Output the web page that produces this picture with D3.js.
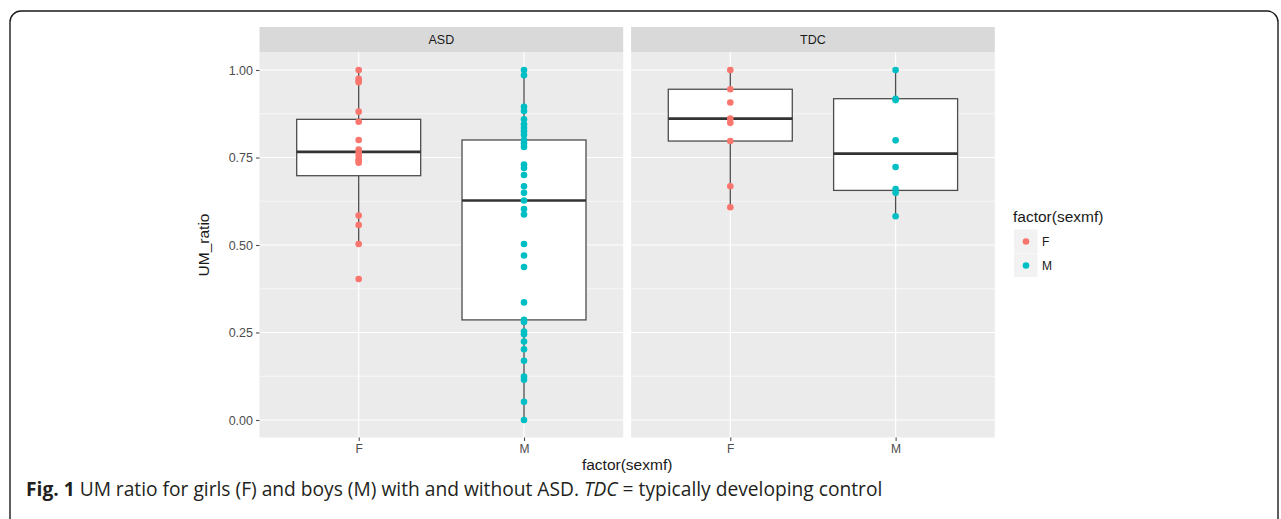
<!DOCTYPE html>
<html>
<head>
<meta charset="utf-8">
<script src="https://cdn.jsdelivr.net/npm/d3@7"></script>
<style>
  body { margin: 0; background: #fff; }
  svg { display: block; }
</style>
</head>
<body>
<svg id="chart"></svg>
<script>
// facets and categories
const panels = ["ASD", "TDC"];
const sexes = ["F", "M"];
const yTicks = [0, 0.25, 0.5, 0.75, 1];
const yMinor = [0.125, 0.375, 0.625, 0.875];

// box stats: [panel, sex, lower, q1, median, q3, upper]
const boxStats = [
    ["ASD", "F", 0.50, 0.698, 0.766, 0.859, 1.00],
    ["ASD", "M", 0.00, 0.286, 0.627, 0.800, 1.00],
    ["TDC", "F", 0.608, 0.797, 0.861, 0.945, 1.00],
    ["TDC", "M", 0.582, 0.656, 0.761, 0.918, 1.00]
];

// individual observations
const asdF = [1.00, 0.975, 0.97, 0.965, 0.881, 0.852, 0.80, 0.773, 0.765, 0.755, 0.745, 0.74, 0.735, 0.584, 0.557, 0.503, 0.403];
const asdM = [1.00, 0.985, 0.895, 0.883, 0.859, 0.845, 0.835, 0.825, 0.815, 0.80, 0.79, 0.78, 0.73, 0.72, 0.70, 0.668, 0.649,
    0.627, 0.603, 0.587, 0.503, 0.47, 0.437, 0.336, 0.286, 0.28, 0.253, 0.245, 0.224, 0.202, 0.169, 0.124, 0.115, 0.052, 0.00];
const tdcF = [1.00, 0.945, 0.907, 0.861, 0.849, 0.797, 0.668, 0.608];
const tdcM = [1.00, 0.918, 0.914, 0.799, 0.723, 0.66, 0.649, 0.582];

const points = [];
[["ASD", "F", asdF], ["ASD", "M", asdM], ["TDC", "F", tdcF], ["TDC", "M", tdcM]].forEach(([p, s, vals]) => {
    vals.forEach(v => points.push({ panel: p, sex: s, value: v }));
});

const colors = { F: "#F8766D", M: "#00BFC4" };

const W = 1281, H = 519;
const svg = d3.select("#chart").attr("width", W).attr("height", H);

// outer frame
svg.append("rect")
    .attr("x", 10).attr("y", 11)
    .attr("width", 1268).attr("height", 530)
    .attr("rx", 11)
    .attr("fill", "none")
    .attr("stroke", "#1a1a1a")
    .attr("stroke-width", 1.4);

const panelX = { ASD: [259.5, 623.2], TDC: [631.1, 994.8] };
const stripTop = 27, plotTop = 52.5, plotBottom = 437.5;

const yScale = d3.scaleLinear().domain([-0.05, 1.05]).range([plotBottom, plotTop]);

const font = "Liberation Sans, Arial, sans-serif";

panels.forEach(p => {
    let [x0, x1] = panelX[p];
    let xScale = d3.scalePoint().domain(sexes).range([x0, x1]).padding(0.6);
    let step = xScale.step();
    let g = svg.append("g");

    // strip
    g.append("rect").attr("x", x0).attr("y", stripTop).attr("width", x1 - x0).attr("height", plotTop - stripTop).attr("fill", "#d9d9d9");
    g.append("text").attr("x", (x0 + x1) / 2).attr("y", (stripTop + plotTop) / 2 + 4.5)
        .attr("text-anchor", "middle").attr("font-family", font).attr("font-size", 12.5).attr("fill", "#1a1a1a").text(p);

    // panel background + grid
    g.append("rect").attr("x", x0).attr("y", plotTop).attr("width", x1 - x0).attr("height", plotBottom - plotTop).attr("fill", "#ebebeb");
    g.selectAll(".minor").data(yMinor).enter().append("line")
        .attr("x1", x0).attr("x2", x1).attr("y1", d => yScale(d)).attr("y2", d => yScale(d))
        .attr("stroke", "#fff").attr("stroke-width", 0.6);
    g.selectAll(".major").data(yTicks).enter().append("line")
        .attr("x1", x0).attr("x2", x1).attr("y1", d => yScale(d)).attr("y2", d => yScale(d))
        .attr("stroke", "#fff").attr("stroke-width", 1.2);
    g.selectAll(".vmajor").data(sexes).enter().append("line")
        .attr("x1", d => xScale(d)).attr("x2", d => xScale(d)).attr("y1", plotTop).attr("y2", plotBottom)
        .attr("stroke", "#fff").attr("stroke-width", 1.2);

    // boxplots
    let bw = step * 0.75;
    boxStats.filter(b => b[0] == p).forEach(([_, s, lo, q1, med, q3, hi]) => {
        let cx = xScale(s);
        let line = (ya, yb) => g.append("line").attr("x1", cx).attr("x2", cx).attr("y1", yScale(ya)).attr("y2", yScale(yb))
            .attr("stroke", "#4d4d4d").attr("stroke-width", 1.3);
        line(q3, hi);
        line(lo, q1);
        g.append("rect").attr("x", cx - bw / 2).attr("y", yScale(q3)).attr("width", bw).attr("height", yScale(q1) - yScale(q3))
            .attr("fill", "#fff").attr("stroke", "#4d4d4d").attr("stroke-width", 1.3);
        g.append("line").attr("x1", cx - bw / 2).attr("x2", cx + bw / 2).attr("y1", yScale(med)).attr("y2", yScale(med))
            .attr("stroke", "#333").attr("stroke-width", 2.6);
    });

    // points
    g.selectAll(".pt").data(points.filter(d => d.panel == p)).enter().append("circle")
        .attr("cx", d => xScale(d.sex)).attr("cy", d => yScale(d.value)).attr("r", 3.3)
        .attr("fill", d => colors[d.sex]);

    // x axis
    let xAxis = d3.axisBottom(xScale).tickSize(3.5).tickPadding(3);
    let ax = g.append("g").attr("transform", `translate(0,${plotBottom})`).call(xAxis);
    ax.select(".domain").remove();
    ax.selectAll("line").attr("stroke", "#4d4d4d").attr("stroke-width", 1.1);
    ax.selectAll("text").attr("font-family", font).attr("font-size", 12).attr("fill", "#4d4d4d");
});

// y axis
let yAxis = d3.axisLeft(yScale).tickValues(yTicks).tickFormat(d3.format(".2f")).tickSize(3.5).tickPadding(3);
let ay = svg.append("g").attr("transform", `translate(${panelX.ASD[0]},0)`).call(yAxis);
ay.select(".domain").remove();
ay.selectAll("line").attr("stroke", "#4d4d4d").attr("stroke-width", 1.1);
ay.selectAll("text").attr("font-family", font).attr("font-size", 12.5).attr("fill", "#4d4d4d");

// axis titles
svg.append("text").attr("transform", `translate(209,${(plotTop + plotBottom) / 2}) rotate(-90)`)
    .attr("text-anchor", "middle").attr("font-family", font).attr("font-size", 15.5).attr("fill", "#1a1a1a").text("UM_ratio");
svg.append("text").attr("x", (panelX.ASD[0] + panelX.TDC[1]) / 2).attr("y", 469.5)
    .attr("text-anchor", "middle").attr("font-family", font).attr("font-size", 15.5).attr("fill", "#1a1a1a").text("factor(sexmf)");

// legend
let lg = svg.append("g").attr("transform", "translate(1014,0)");
lg.append("text").attr("x", -1).attr("y", 222).attr("font-family", font).attr("font-size", 15.5).attr("fill", "#1a1a1a").text("factor(sexmf)");
sexes.forEach((s, i) => {
    let y0 = 229.5 + i * 24;
    lg.append("rect").attr("x", 0).attr("y", y0).attr("width", 23.5).attr("height", 23.5).attr("fill", "#f2f2f2");
    lg.append("circle").attr("cx", 12).attr("cy", y0 + 12).attr("r", 3.3).attr("fill", colors[s]);
    lg.append("text").attr("x", 28).attr("y", y0 + 16.5).attr("font-family", font).attr("font-size", 12).attr("fill", "#1a1a1a").text(s);
});

// caption, sized so it ends where the reference one does
let cap = svg.append("text").attr("x", 26).attr("y", 496).attr("font-family", "Open Sans, Noto Sans, sans-serif").attr("font-size", 18).attr("fill", "#231f20");
cap.append("tspan").attr("font-weight", "bold").text("Fig. 1");
cap.append("tspan").text(" UM ratio for girls (F) and boys (M) with and without ASD. ");
cap.append("tspan").attr("font-style", "italic").text("TDC");
cap.append("tspan").text(" = typically developing control");
let capLen = cap.node().getComputedTextLength();
cap.attr("font-size", 18 * 857 / capLen);
</script>
</body>
</html>
